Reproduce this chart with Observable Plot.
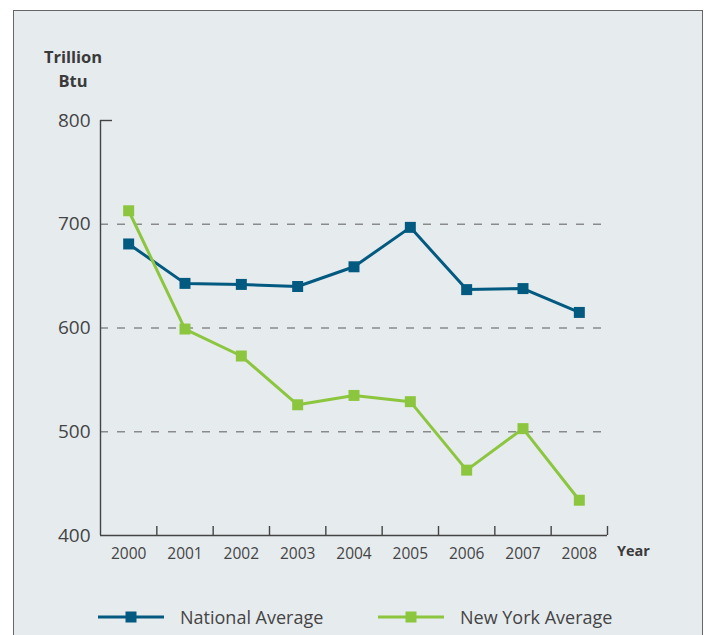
<!DOCTYPE html>
<html>
<head>
<meta charset="utf-8">
<script src="https://cdn.jsdelivr.net/npm/d3@7"></script>
<script src="https://cdn.jsdelivr.net/npm/@observablehq/plot@0.6"></script>
<style>
  html, body { margin: 0; padding: 0; background: #ffffff; }
  #wrap { position: relative; width: 708px; height: 635px; overflow: hidden; font-family: "Open Sans", "Lato", sans-serif; }
  #panel { position: absolute; left: 13px; top: 10px; width: 690px; height: 640px; background: #e6ebee; border: 1.5px solid #666; box-sizing: border-box; }
  #chart { position: absolute; left: 0; top: 0; }
  .ylab { position: absolute; left: 33px; top: 45px; width: 80px; text-align: center; font-weight: 700; font-size: 16.5px; line-height: 24px; color: #3a3a3a; }
  .xlab { position: absolute; left: 617px; top: 541px; font-weight: 700; font-size: 14.5px; color: #3a3a3a; }
  .legend { position: absolute; top: 605px; left: 0; font-size: 18px; color: #444; }
  .legend .item { position: absolute; display: flex; align-items: center; white-space: nowrap; }
  .legend svg { display: block; }
</style>
</head>
<body>
<div id="wrap">
  <div id="panel"></div>
  <div id="chart"></div>
  <div class="ylab">Trillion<br>Btu</div>
  <div class="xlab">Year</div>
  <div class="legend" id="legend"></div>
</div>
<script>
const years = [2000, 2001, 2002, 2003, 2004, 2005, 2006, 2007, 2008];
const nationalAverage = [681, 643, 642, 640, 659, 697, 637, 638, 615];
const newYorkAverage = [713, 599, 573, 526, 535, 529, 463, 503, 434];
const yTicks = [400, 500, 600, 700, 800];
const gridValues = [500, 600, 700];
const seriesNames = ["National Average", "New York Average"];
const seriesColors = ["#035a80", "#8cc63f"];

const rows = [];
years.forEach((y, i) => {
  rows.push({year: y, value: nationalAverage[i], series: seriesNames[0]});
  rows.push({year: y, value: newYorkAverage[i], series: seriesNames[1]});
});
const boundaries = years.map(y => y + 0.5);
const xMin = years[0] - 0.5;
const xMax = years[years.length - 1] + 0.5;

const plot = Plot.plot({
  width: 708,
  height: 580,
  marginLeft: 100,
  marginRight: 101,
  marginTop: 120,
  marginBottom: 45,
  style: {background: "transparent", fontFamily: "'Open Sans', Lato, sans-serif", color: "#444"},
  x: {domain: [xMin, xMax], axis: null},
  y: {domain: [400, 800], axis: null},
  color: {domain: seriesNames, range: seriesColors},
  marks: [
    Plot.ruleY(gridValues, {stroke: "#8a8a8a", strokeWidth: 1.6, strokeDasharray: "8,9"}),
    Plot.ruleX([xMin], {stroke: "#444", strokeWidth: 1.4}),
    Plot.ruleY([400], {stroke: "#444", strokeWidth: 1.4}),
    Plot.tickX(boundaries, {x: d => d, stroke: "#444", strokeWidth: 1.4, insetTop: 406}),
    Plot.tickY([800], {y: d => d, stroke: "#444", strokeWidth: 1.4, insetRight: 495}),
    Plot.axisY({ticks: yTicks, tickSize: 0, tickPadding: 10, fontSize: 19, fill: "#444", label: null, tickFormat: d => String(d)}),
    Plot.axisX({ticks: years, tickSize: 0, tickPadding: 12, fontSize: 15.5, fill: "#444", label: null, tickFormat: d => String(d)}),
    Plot.line(rows, {x: "year", y: "value", stroke: "series", z: "series", strokeWidth: 3}),
    Plot.dot(rows, {x: "year", y: "value", fill: "series", symbol: "square", r: 6.2})
  ]
});
document.getElementById("chart").appendChild(plot);

const legend = document.getElementById("legend");
const legendLefts = [98, 378];
seriesNames.forEach((name, i) => {
  const item = document.createElement("div");
  item.className = "item";
  item.style.left = legendLefts[i] + "px";
  item.innerHTML = `<svg width="66" height="24"><line x1="0" y1="12" x2="66" y2="12" stroke="${seriesColors[i]}" stroke-width="3"/><rect x="27.5" y="6.5" width="11" height="11" fill="${seriesColors[i]}"/></svg><span style="margin-left:16px">${name}</span>`;
  legend.appendChild(item);
});
</script>
</body>
</html>
